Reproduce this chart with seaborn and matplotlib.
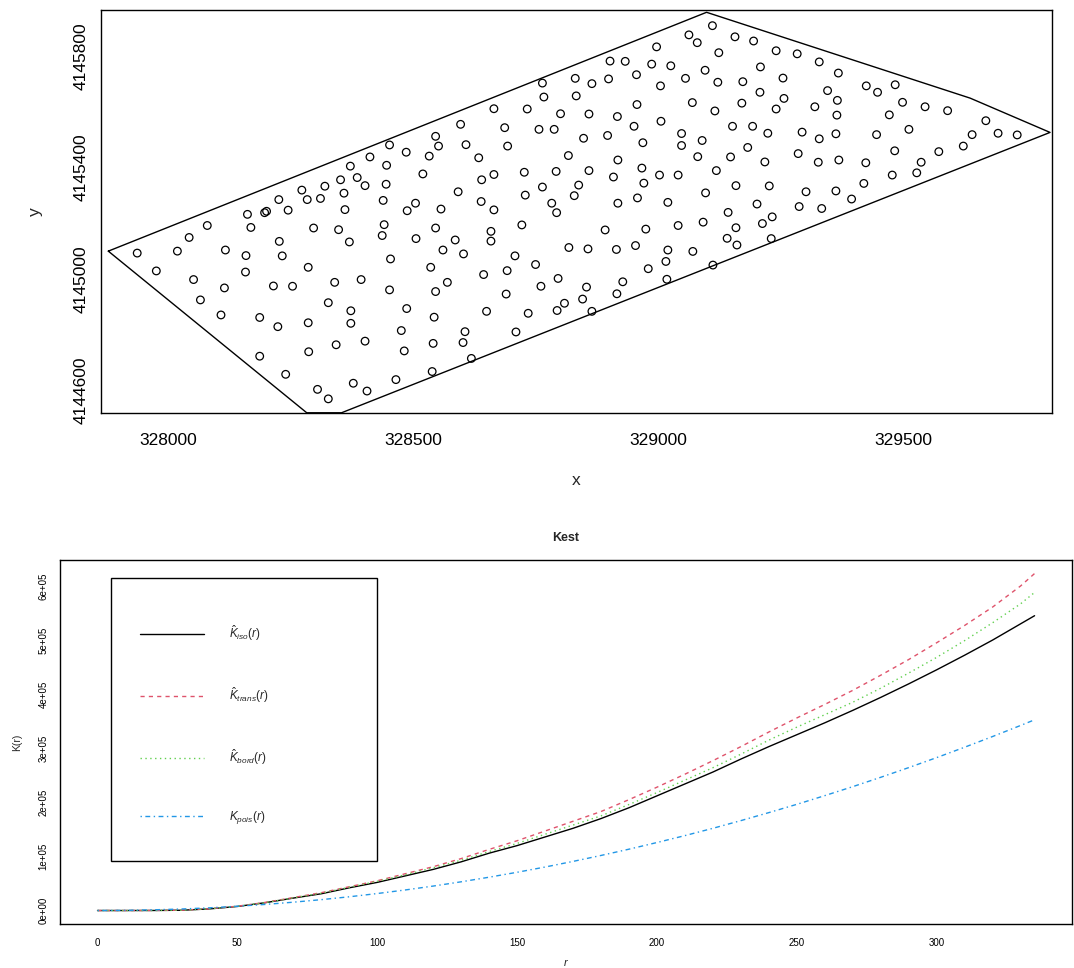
import matplotlib
matplotlib.use("Agg")
import matplotlib.pyplot as plt
from matplotlib.patches import Rectangle
import numpy as np
import pandas as pd
import seaborn as sns

# point locations (UTM, metres)
pts_x = [328452, 328486, 328412, 328372, 328446, 328520, 328352, 328386, 328402, 328445,
         328273, 328320, 328284, 328311, 328359, 328226, 328245, 328439, 328505, 328488,
         328361, 328162, 328197, 328201, 328080, 328169, 328297, 328348, 328441, 328437,
         328506, 328043, 328227, 328370, 327937, 328019, 328117, 328159, 328233, 328454,
         327976, 328158, 328286, 328052, 328115, 328215, 328254, 328340, 328394, 328452,
         328066, 328327, 328373, 328487, 328108, 328187, 328224, 328286, 328373, 328476,
         328343, 328402, 328482, 328187, 328287, 328240, 328305, 328378, 328465, 328406,
         328327,
         329111, 329063, 329080, 329157, 328997, 329124, 328902, 328933, 328987,
         329026, 329096, 328956, 328831, 328865, 328899, 328764, 329056, 329122, 329173,
         329005, 328767, 328833, 328957, 329070, 329116, 329171, 328665, 328733, 328801,
         328859, 328917, 329006, 328951, 329152, 328597, 328687, 328757, 328788, 328546,
         328552, 328608, 328693, 328848, 328897, 329048, 329048, 329090, 328969, 328533,
         328634, 328817, 328918, 329081, 329148, 328640, 328665, 328727, 328792, 328859,
         328909, 328967, 328971, 329003, 329041, 329119, 329159, 328592, 328639, 328665,
         328557, 328729, 328764, 328838, 328829, 328783, 328793, 328918, 328958, 329020,
         329097, 329143, 328546, 328659, 328659, 328722, 328586, 328561, 328603, 328892,
         328975, 329041, 329092, 329159, 329141, 329161, 328818, 328857, 328915, 328954,
         329020, 329071, 329016, 328980, 329112, 328708, 328750, 328536, 328692, 328644,
         328570, 328546, 328796, 328761, 328854, 328928, 329018, 328916, 328690, 328846,
         328809, 328650, 328735, 328794, 328865, 328543, 328606, 328710, 328541, 328602,
         328619, 328539, 329213, 329233, 329231, 329195, 329241, 329284, 329329, 329209,
         329368, 329255, 329208, 329257, 329241, 329346, 329366, 329320, 329365, 329425,
         329448, 329484, 329499, 329545, 329591, 329472, 329669, 329641, 329694, 329733,
         329193, 329224, 329294, 329329, 329363, 329446, 329512, 329183, 329218, 329286,
         329327, 329369, 329424, 329483, 329573, 329623, 329537, 329528, 329478, 329420,
         329227, 329302, 329363, 329395, 329202, 329288, 329334]
pts_y = [4145481, 4145455, 4145438, 4145405, 4145408, 4145377, 4145356, 4145364, 4145335, 4145340,
         4145319, 4145333, 4145285, 4145289, 4145308, 4145285, 4145247, 4145282, 4145272, 4145245,
         4145249, 4145232, 4145238, 4145243, 4145192, 4145185, 4145183, 4145177, 4145195, 4145156,
         4145145, 4145149, 4145135, 4145133, 4145093, 4145100, 4145104, 4145084, 4145083, 4145072,
         4145029, 4145025, 4145042, 4144998, 4144968, 4144975, 4144974, 4144988, 4144998, 4144961,
         4144925, 4144915, 4144886, 4144894, 4144871, 4144862, 4144829, 4144843, 4144841, 4144815,
         4144764, 4144777, 4144742, 4144723, 4144739, 4144658, 4144604, 4144626, 4144639, 4144598,
         4144570,
         4145909, 4145876, 4145848, 4145869, 4145833, 4145812, 4145782, 4145781, 4145771,
         4145765, 4145749, 4145733, 4145720, 4145701, 4145718, 4145703, 4145720, 4145706, 4145708,
         4145693, 4145653, 4145657, 4145626, 4145633, 4145603, 4145631, 4145611, 4145610, 4145593,
         4145592, 4145583, 4145566, 4145548, 4145548, 4145555, 4145543, 4145537, 4145537, 4145512,
         4145477, 4145482, 4145477, 4145505, 4145515, 4145522, 4145479, 4145497, 4145489, 4145441,
         4145435, 4145443, 4145427, 4145439, 4145438, 4145356, 4145375, 4145383, 4145386, 4145389,
         4145366, 4145398, 4145344, 4145373, 4145373, 4145389, 4145335, 4145313, 4145278, 4145248,
         4145251, 4145301, 4145330, 4145337, 4145299, 4145272, 4145238, 4145272, 4145291, 4145275,
         4145309, 4145239, 4145183, 4145171, 4145136, 4145194, 4145140, 4145104, 4145090, 4145176,
         4145179, 4145192, 4145204, 4145184, 4145146, 4145122, 4145113, 4145108, 4145106, 4145120,
         4145104, 4145099, 4145063, 4145037, 4145050, 4145083, 4145052, 4145042, 4145030, 4145016,
         4144988, 4144955, 4145002, 4144974, 4144971, 4144990, 4144999, 4144947, 4144946, 4144928,
         4144913, 4144884, 4144877, 4144887, 4144884, 4144863, 4144811, 4144810, 4144769, 4144772,
         4144715, 4144668, 4145199, 4145223, 4145145, 4145854, 4145819, 4145808, 4145779, 4145761,
         4145739, 4145721, 4145670, 4145648, 4145610, 4145676, 4145641, 4145618, 4145588, 4145693,
         4145670, 4145697, 4145634, 4145618, 4145604, 4145589, 4145568, 4145518, 4145523, 4145517,
         4145548, 4145523, 4145527, 4145503, 4145521, 4145518, 4145537, 4145472, 4145420, 4145450,
         4145419, 4145427, 4145417, 4145460, 4145457, 4145477, 4145419, 4145381, 4145373, 4145343,
         4145334, 4145313, 4145316, 4145287, 4145269, 4145260, 4145253]

# observation window
win_x = [327878, 329099, 329637, 329800, 328354, 328283, 327878]
win_y = [4145100, 4145957, 4145649, 4145526, 4144520, 4144520, 4145100]

xy_xticks = [328000, 328500, 329000, 329500]
xy_yticks = [4144600, 4145000, 4145400, 4145800]

# Kest output
r = [0, 10, 20, 30, 40, 50, 60, 70, 80, 90, 100, 110, 120, 130, 140, 150, 160, 170,
     180, 190, 200, 210, 220, 230, 240, 250, 260, 270, 280, 290, 300, 310, 320, 330, 335]
k_iso = [0, 0, 100, 500, 3000, 7500, 14500, 23000, 31000, 42000, 52000, 64000, 76000,
         90000, 106000, 120000, 136000, 152000, 170000, 190000, 212000, 234000, 256000,
         280000, 303000, 325000, 347000, 370000, 394000, 419000, 445000, 472000, 500000,
         530000, 545000]
k_trans = [0, 0, 100, 600, 3200, 8000, 15000, 24000, 33000, 44000, 55000, 68000, 81000,
           96000, 113000, 129000, 147000, 165000, 183000, 205000, 228000, 252000, 277000,
           303000, 330000, 356000, 381000, 407000, 435000, 464000, 495000, 527000, 561000,
           600000, 623000]
k_bord = [0, 0, 100, 500, 3100, 7800, 14500, 23500, 32000, 43000, 54000, 66000, 79000,
          93000, 109000, 124000, 141000, 158000, 175000, 196000, 218000, 241000, 264000,
          289000, 315000, 339000, 362000, 385000, 411000, 439000, 468000, 499000, 532000,
          567000, 588000]
k_pois = [0, 300, 1300, 2800, 5000, 7900, 11300, 15400, 20100, 25400, 31400, 38000, 45200,
          53100, 61600, 70700, 80400, 90800, 101800, 113400, 125700, 138500, 152000, 166200,
          181000, 196300, 212400, 229000, 246300, 264200, 282700, 301900, 321700, 342100,
          352600]

k_yticks = [0, 100000, 200000, 300000, 400000, 500000, 600000]
k_ylabels = ["0e+00", "1e+05", "2e+05", "3e+05", "4e+05", "5e+05", "6e+05"]
k_xticks = [0, 50, 100, 150, 200, 250, 300]

sns.set_style("white")
plt.rcParams["font.family"] = ["Liberation Sans", "DejaVu Sans"]
plt.rcParams["mathtext.fontset"] = "custom"
plt.rcParams["mathtext.rm"] = "Liberation Sans"
plt.rcParams["mathtext.it"] = "Liberation Sans:italic"

fig = plt.figure(figsize=(10.74, 9.68), dpi=100)

# ---- point pattern ----
ax1 = fig.add_axes([0.0940, 0.5730, 0.8855, 0.4166])
pts = pd.DataFrame({"x": pts_x, "y": pts_y})
sns.scatterplot(data=pts, x="x", y="y", ax=ax1, marker="o", s=30,
                facecolors="none", edgecolor="black", linewidth=0.9)
ax1.plot(win_x, win_y, color="black", lw=1.0)
ax1.set_xlim(327863, 329804)
ax1.set_ylim(4144518, 4145965)
ax1.set_xticks(xy_xticks)
ax1.set_yticks(xy_yticks)
ax1.set_xticklabels([str(v) for v in xy_xticks], fontsize=12.5)
ax1.set_yticklabels([str(v) for v in xy_yticks], fontsize=12.5, rotation=90, va="center")
ax1.tick_params(axis="both", direction="out", length=5, width=0.8, colors="black")
ax1.tick_params(axis="x", pad=9)
ax1.tick_params(axis="y", pad=4)
ax1.set_xlabel("x", fontsize=12.5, labelpad=18)
ax1.set_ylabel("y", fontsize=12.5, labelpad=22)
for s in ax1.spines.values():
    s.set_color("black")
    s.set_linewidth(1.0)

# ---- K function ----
ax2 = fig.add_axes([0.0559, 0.04545, 0.9423, 0.376])
curves = [
    (k_iso, "black", "-", r"$\hat{K}_{iso}(r)$"),
    (k_trans, "#DF536B", (0, (3, 3)), r"$\hat{K}_{trans}(r)$"),
    (k_bord, "#61D04F", (0, (1, 2.5)), r"$\hat{K}_{bord}(r)$"),
    (k_pois, "#2297E6", (0, (1, 2.5, 3.5, 2.5)), r"$K_{pois}(r)$"),
]
for vals, col, ls, lab in curves:
    sns.lineplot(x=r, y=vals, ax=ax2, color=col, linestyle=ls, lw=1.0, label=lab)

ax2.set_xlim(-13.4, 348.4)
ax2.set_ylim(-24920, 647920)
ax2.set_xticks(k_xticks)
ax2.set_xticklabels([str(v) for v in k_xticks], fontsize=7)
ax2.set_yticks(k_yticks)
ax2.set_yticklabels(k_ylabels, fontsize=7, rotation=90, va="center")
ax2.tick_params(axis="both", direction="out", length=4.3, width=0.8, colors="black")
ax2.tick_params(axis="x", pad=6)
ax2.tick_params(axis="y", pad=4)
ax2.set_xlabel(r"$r$", fontsize=8, labelpad=6)
ax2.set_ylabel("K(r)", fontsize=7.5, labelpad=12)
ax2.set_title("Kest", fontsize=9, fontweight="bold", pad=13.7)
for s in ax2.spines.values():
    s.set_color("black")
    s.set_linewidth(1.0)

leg = ax2.legend(loc="upper left", bbox_to_anchor=(0.079, 0.825), frameon=False,
                 borderpad=0, borderaxespad=0, handlelength=5.4, handletextpad=2.1,
                 labelspacing=3.58, fontsize=8.5)
ax2.add_patch(Rectangle((0.0504, 0.174), 0.2626, 0.7757, transform=ax2.transAxes,
                        fill=False, edgecolor="black", lw=1.0))

fig.savefig("out.png", dpi=100)
